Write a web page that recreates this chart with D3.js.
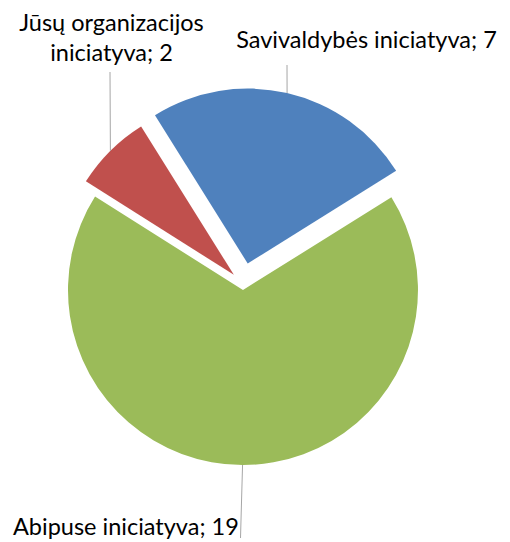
<!DOCTYPE html>
<html lang="lt">
<head>
  <meta charset="UTF-8">
  <title>Iniciatyva</title>
  <script type="text/javascript" src="https://cdn.jsdelivr.net/npm/d3@7"></script>
  <style type="text/css">
  body {
    margin: 0;
    padding: 0;
    background: #fff;
  }
  .label {
    font-family: Lato, "Open Sans", sans-serif;
    font-size: 23.5px;
    fill: #000;
  }
  .leader {
    stroke: #a6a6a6;
    stroke-width: 1px;
    fill: none;
  }
  </style>
</head>
<body>
  <div id="chart"></div>
<script type="text/javascript">
  // duomenys
  var categories = ['Savivaldybės iniciatyva', 'Abipuse iniciatyva', 'Jūsų organizacijos iniciatyva'];
  var values = [7, 19, 2];
  var colors = ['#4F81BD', '#9BBB59', '#C0504D'];

  var width = 510, height = 542;
  var cx = 243, cy = 284, radius = 175;
  var startDeg = -32;
  // kiek kiekviena dalis atitraukta nuo centro
  var explode = [21, 6, 13];

  // etikeciu vietos (x, y, anchor) ir kur baigiasi linija
  var labelPos = [
    { lines: [categories[0] + '; ' + values[0]], x: 366.5, y: 48, anchor: 'middle', lineEnd: [287, 65] },
    { lines: [categories[1] + '; ' + values[1]], x: 13, y: 535, anchor: 'start', lineEnd: [240.5, 538] },
    { lines: ['Jūsų organizacijos', 'iniciatyva; ' + values[2]], x: 111.5, y: 31, anchor: 'middle', lineEnd: [110, 72] }
  ];

  var svg = d3.select('#chart')
    .append('svg')
    .attr('width', width)
    .attr('height', height);

  var a0 = startDeg * Math.PI / 180;
  var pie = d3.pie()
    .sort(null)
    .startAngle(a0)
    .endAngle(a0 + 2 * Math.PI);

  var arc = d3.arc()
    .innerRadius(0)
    .outerRadius(radius);

  var arcs = pie(values);

  function offset(d, i) {
    var mid = (d.startAngle + d.endAngle) / 2;
    return [cx + explode[i] * Math.sin(mid), cy - explode[i] * Math.cos(mid)];
  }

  var g = svg.append('g');

  g.selectAll('.slice')
    .data(arcs)
    .enter()
    .append('path')
    .attr('class', 'slice')
    .attr('transform', function(d, i){
      var o = offset(d, i);
      return 'translate(' + o[0] + ',' + o[1] + ')';
    })
    .attr('d', arc)
    .attr('fill', function(d, i){ return colors[i]; });

  // linijos nuo dalies krasto iki etiketes
  svg.selectAll('.leader')
    .data(arcs)
    .enter()
    .append('line')
    .attr('class', 'leader')
    .attr('x1', function(d, i){
      var mid = (d.startAngle + d.endAngle) / 2;
      return offset(d, i)[0] + radius * Math.sin(mid);
    })
    .attr('y1', function(d, i){
      var mid = (d.startAngle + d.endAngle) / 2;
      return offset(d, i)[1] - radius * Math.cos(mid);
    })
    .attr('x2', function(d, i){ return labelPos[i].lineEnd[0]; })
    .attr('y2', function(d, i){ return labelPos[i].lineEnd[1]; });

  var labels = svg.selectAll('.label')
    .data(labelPos)
    .enter()
    .append('text')
    .attr('class', 'label')
    .attr('text-anchor', function(d){ return d.anchor; });

  labels.selectAll('tspan')
    .data(function(d){ return d.lines.map(function(t, k){ return { t: t, x: d.x, y: d.y + k * 30 }; }); })
    .enter()
    .append('tspan')
    .attr('x', function(d){ return d.x; })
    .attr('y', function(d){ return d.y; })
    .text(function(d){ return d.t; });
</script>
</body>
</html>
